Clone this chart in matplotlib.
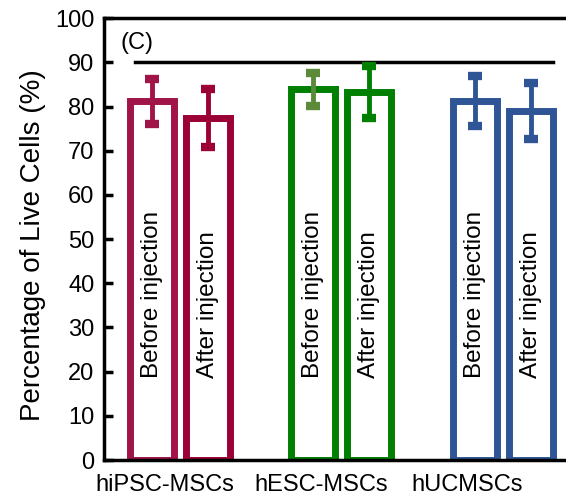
import matplotlib.pyplot as plt

plt.rcParams['font.family'] = ['Liberation Sans', 'DejaVu Sans']

groups = ['hiPSC-MSCs', 'hESC-MSCs', 'hUCMSCs']
conditions = ['Before injection', 'After injection']
means = [[81.2, 77.4], [83.9, 83.3], [81.2, 79.0]]
errors = [[5.1, 6.6], [3.7, 5.8], [5.7, 6.3]]
bar_colors = [['#a01448', '#9b0036'], ['#008000', '#008000'], ['#2f5597', '#2f5597']]
err_colors = [['#a01448', '#9b0036'], ['#5a8a3a', '#008000'], ['#2f5597', '#2f5597']]

group_pos = [0, 2.875, 5.77]
label_pos = [-0.27, 2.52, 5.125]
offset = 0.5
width = 0.78

fig = plt.figure(figsize=(5.66, 4.97), dpi=100)
ax = fig.add_axes([0.184, 0.0744, 0.816, 0.889])

for g, gx in enumerate(group_pos):
    for c in range(2):
        x = gx + (c - 0.5) * 2 * offset
        ax.bar(x, means[g][c], width=width, facecolor='white',
               edgecolor=bar_colors[g][c], linewidth=5, zorder=2)
        ax.errorbar(x, means[g][c], yerr=errors[g][c], fmt='none',
                    ecolor=err_colors[g][c], elinewidth=3.5, capsize=5,
                    capthick=6, zorder=3)
        ax.text(x, 18.5, conditions[c], rotation=90, ha='center', va='bottom',
                fontsize=17.5, zorder=4)

ax.plot([-0.8, 6.66], [90, 90], color='black', lw=2.5)
ax.text(-1.07, 94.3, '(C)', fontsize=17, ha='left', va='center')

ax.set_xlim(-1.357, 6.89)
ax.set_ylim(0, 100)
ax.set_yticks(range(0, 101, 10))
ax.set_xticks(label_pos)
ax.set_xticklabels(groups)
ax.tick_params(axis='y', labelsize=17, width=2.5, length=6.5, direction='in', pad=7)
ax.tick_params(axis='x', labelsize=17, length=0, pad=10)
ax.set_ylabel('Percentage of Live Cells (%)', fontsize=20)
ax.yaxis.set_label_coords(-0.125, 0.486)
for s in ['left', 'bottom', 'top']:
    ax.spines[s].set_linewidth(2.5)
ax.spines['right'].set_visible(False)

fig.savefig('out.png', dpi=100)
